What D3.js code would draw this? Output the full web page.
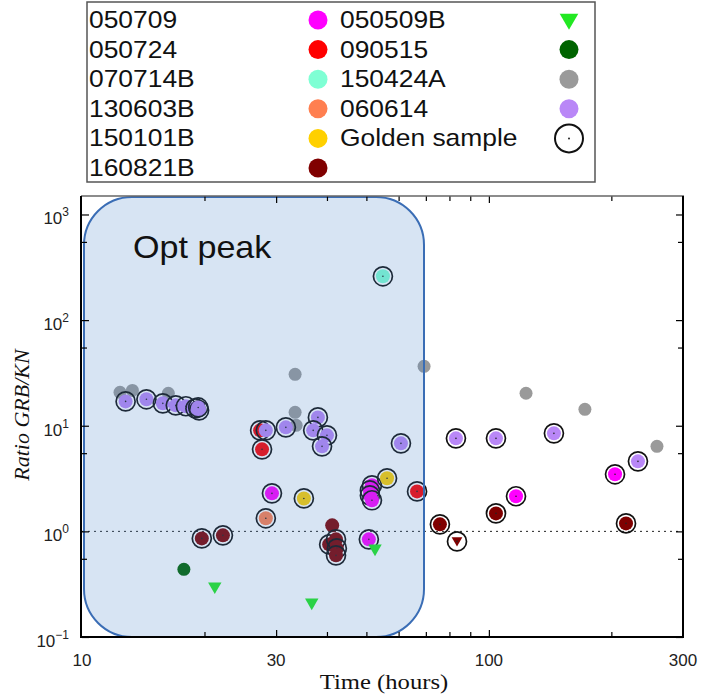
<!DOCTYPE html>
<html>
<head>
<meta charset="utf-8">
<script src="https://cdnjs.cloudflare.com/ajax/libs/d3/7.8.5/d3.min.js"></script>
<style>
  body { margin: 0; background: #fff; }
  .tick line { stroke: #000; }
  .domain { display: none; }
</style>
</head>
<body>
<div id="chart"></div>
<script>
var svgWidth = 702;
var svgHeight = 694;

// Each point: [time (hours), ratio GRB/KN, golden sample (1) or not (0)]
var grb050709 = [[29.3, 2.29, 1], [51.6, 2.73, 1], [51.0, 2.44, 1], [51.0, 2.19, 1], [51.6, 1.97, 1],
                 [50.7, 0.84, 1], [116.6, 2.15, 1], [204.2, 3.47, 1]];
var grb050724 = [[27.4, 9.04, 1], [27.7, 5.98, 1], [66.6, 2.39, 1]];
var grb070714B = [[54.9, 260, 1]];
var grb130603B = [[28.3, 1.33, 1]];
var grb150101B = [[35.1, 2.05, 1], [56.2, 3.18, 1]];
var grb160821B = [[19.7, 0.858, 1], [22.2, 0.917, 1], [41.2, 1.14, 0], [40.5, 0.753, 1], [42.1, 0.84, 1],
                  [42.3, 0.69, 1], [42.1, 0.593, 1], [75.8, 1.165, 1], [104.1, 1.48, 1], [217.3, 1.19, 1]];
var lim160821B = [[83.5, 0.804, 1]];
var grb050509B = [[21.2, 0.295, 0], [36.7, 0.208, 0], [52.5, 0.675, 0]];
var grb090515 = [[17.8, 0.437, 0]];
var grb150424A = [[12.4, 20.7, 0], [13.3, 21.6, 0], [16.3, 20.3, 0], [33.4, 30.7, 0], [33.4, 13.4, 0],
                  [33.6, 10.1, 0], [69.3, 36.5, 0], [123.4, 20.3, 0], [172.2, 14.3, 0], [258.9, 6.38, 0]];
var grb060614 = [[12.8, 17.0, 1], [14.4, 17.8, 1], [15.8, 16.3, 1], [17.0, 15.6, 1], [18.0, 15.3, 1],
                 [19.0, 14.6, 1], [19.4, 14.0, 1], [19.3, 14.9, 1],
                 [28.3, 9.04, 1], [31.7, 9.66, 1], [38.0, 12.0, 1], [37.0, 9.04, 1], [40.0, 8.11, 1],
                 [38.9, 6.38, 1], [60.8, 6.81, 1],
                 [83.0, 7.6, 1], [104.1, 7.6, 1], [144.5, 8.47, 1], [232.5, 4.6, 1]];

var legendLeft = ["050709", "050724", "070714B", "130603B", "150101B", "160821B"];
var legendRight = ["050509B", "090515", "150424A", "060614", "Golden sample"];

var xMajor = [30, 100];
var xMinor = [20, 40, 50, 60, 70, 80, 90, 200];
var xLabels = [10, 30, 100, 300];
var yMajor = [0.1, 1, 10, 100, 1000];
var yMinor = [0.55, 5.5, 55, 550];
var yLabelExp = ["\u22121", "0", "1", "2", "3"];

var colors = {
  "050709": "#ff00ff", "050724": "#ff0000", "070714B": "#7fffd4", "130603B": "#ff7f50",
  "150101B": "#ffd000", "160821B": "#800000", "050509B": "#22e822", "090515": "#006400",
  "150424A": "#9a9a9a", "060614": "#b987f7"
};

// drawing order (back to front)
var series = [
  { name: "150424A", data: grb150424A, shape: "circle", r: 6.5 },
  { name: "050724", data: grb050724, shape: "circle", r: 7 },
  { name: "060614", data: grb060614, shape: "circle", r: 7 },
  { name: "050709", data: grb050709, shape: "circle", r: 7 },
  { name: "150101B", data: grb150101B, shape: "circle", r: 7 },
  { name: "130603B", data: grb130603B, shape: "circle", r: 7 },
  { name: "070714B", data: grb070714B, shape: "circle", r: 7 },
  { name: "160821B", data: grb160821B, shape: "circle", r: 7 },
  { name: "160821B", data: lim160821B, shape: "triangle", r: 7 },
  { name: "050509B", data: grb050509B, shape: "triangle", r: 7 },
  { name: "090515", data: grb090515, shape: "circle", r: 6.5 }
];

var plotLeft = 82, plotRight = 683, plotTop = 196, plotBottom = 637;

var svg = d3.select("#chart")
  .append("svg")
  .attr("width", svgWidth)
  .attr("height", svgHeight)
  .style("font-family", "'Liberation Sans', Arial, sans-serif");

var xScale = d3.scaleLog().domain([10, 300]).range([plotLeft, plotRight]);
var yScale = d3.scaleLog().domain([0.1, Math.pow(10, 3.175)]).range([plotBottom, plotTop]);

// dotted line at ratio = 1
svg.append("line")
  .attr("x1", plotLeft).attr("x2", plotRight)
  .attr("y1", yScale(1)).attr("y2", yScale(1))
  .attr("stroke", "#222")
  .attr("stroke-width", 1)
  .attr("stroke-dasharray", "2,4");

// points
var pointsGroup = svg.append("g");
series.forEach(function(s) {
  s.data.forEach(function(d) {
    var cx = xScale(d[0]), cy = yScale(d[1]);
    if (s.shape === "circle") {
      pointsGroup.append("circle")
        .attr("cx", cx).attr("cy", cy).attr("r", s.r)
        .attr("fill", colors[s.name]);
    } else {
      pointsGroup.append("path")
        .attr("d", d3.symbol().type(d3.symbolTriangle).size(d[2] ? 50 : 78)())
        .attr("transform", "translate(" + cx + "," + (cy - 1) + ") rotate(180)")
        .attr("fill", colors[s.name]);
    }
    if (d[2]) {
      pointsGroup.append("circle")
        .attr("cx", cx).attr("cy", cy).attr("r", 9.5)
        .attr("fill", "none")
        .attr("stroke", "#111")
        .attr("stroke-width", 1.7);
      pointsGroup.append("circle")
        .attr("cx", cx).attr("cy", cy).attr("r", 0.8)
        .attr("fill", "#222");
    }
  });
});

// optical peak region, drawn over the points
svg.append("rect")
  .attr("x", 84).attr("y", plotTop + 1)
  .attr("width", 340).attr("height", plotBottom - plotTop - 1)
  .attr("rx", 48).attr("ry", 48)
  .attr("fill", "#4a86c8")
  .attr("fill-opacity", 0.22)
  .attr("stroke", "#3a6db5")
  .attr("stroke-width", 2);

svg.append("text")
  .attr("transform", "translate(133,258) scale(1.1,1)")
  .attr("font-size", "31px")
  .attr("fill", "#111")
  .text("Opt peak");

// ticks (inward, on all four sides)
svg.append("g")
  .attr("transform", "translate(0," + plotBottom + ")")
  .call(d3.axisBottom(xScale).tickValues(xMajor).tickSize(-7).tickFormat(""));
svg.append("g")
  .attr("transform", "translate(0," + plotBottom + ")")
  .call(d3.axisBottom(xScale).tickValues(xMinor).tickSize(-5).tickFormat(""));
svg.append("g")
  .attr("transform", "translate(0," + plotTop + ")")
  .call(d3.axisTop(xScale).tickValues(xMajor).tickSize(-7).tickFormat(""));
svg.append("g")
  .attr("transform", "translate(0," + plotTop + ")")
  .call(d3.axisTop(xScale).tickValues(xMinor).tickSize(-5).tickFormat(""));
svg.append("g")
  .attr("transform", "translate(" + plotLeft + ",0)")
  .call(d3.axisLeft(yScale).tickValues(yMajor).tickSize(-7).tickFormat(""));
svg.append("g")
  .attr("transform", "translate(" + plotLeft + ",0)")
  .call(d3.axisLeft(yScale).tickValues(yMinor).tickSize(-5).tickFormat(""));
svg.append("g")
  .attr("transform", "translate(" + plotRight + ",0)")
  .call(d3.axisRight(yScale).tickValues(yMajor).tickSize(-7).tickFormat(""));
svg.append("g")
  .attr("transform", "translate(" + plotRight + ",0)")
  .call(d3.axisRight(yScale).tickValues(yMinor).tickSize(-5).tickFormat(""));
svg.selectAll(".tick line").attr("stroke-width", 1.2);

// frame
svg.append("line").attr("x1", plotLeft - 1).attr("x2", plotRight + 1).attr("y1", plotTop).attr("y2", plotTop)
  .attr("stroke", "#666").attr("stroke-width", 1.3);
svg.append("line").attr("x1", plotLeft - 1).attr("x2", plotRight + 1).attr("y1", plotBottom).attr("y2", plotBottom)
  .attr("stroke", "#000").attr("stroke-width", 2);
svg.append("line").attr("x1", plotLeft - 1).attr("x2", plotLeft - 1).attr("y1", plotTop).attr("y2", plotBottom + 1)
  .attr("stroke", "#000").attr("stroke-width", 2);
svg.append("line").attr("x1", plotRight).attr("x2", plotRight).attr("y1", plotTop).attr("y2", plotBottom + 1)
  .attr("stroke", "#000").attr("stroke-width", 2);

// x tick labels
svg.selectAll(".xlabel")
  .data(xLabels)
  .enter()
  .append("text")
  .attr("x", d => xScale(d))
  .attr("y", 666)
  .attr("text-anchor", "middle")
  .attr("font-size", "17px")
  .attr("fill", "#222")
  .text(d => d);

// y tick labels with superscripts
var yLabels = svg.selectAll(".ylabel")
  .data(yMajor)
  .enter()
  .append("text")
  .attr("x", 69)
  .attr("y", d => yScale(d) + 10)
  .attr("text-anchor", "end")
  .attr("font-size", "17px")
  .attr("fill", "#222");
yLabels.append("tspan").text("10");
yLabels.append("tspan")
  .attr("dy", -8)
  .attr("font-size", "12px")
  .text((d, i) => yLabelExp[i]);

// axis titles
svg.append("text")
  .attr("transform", "translate(384,689) scale(1.12,1)")
  .attr("text-anchor", "middle")
  .attr("font-family", "'Liberation Serif', 'Times New Roman', serif")
  .attr("font-size", "22px")
  .attr("fill", "#111")
  .text("Time (hours)");

svg.append("text")
  .attr("transform", "translate(29,415) rotate(-90)")
  .attr("text-anchor", "middle")
  .attr("font-family", "'Liberation Serif', 'Times New Roman', serif")
  .attr("font-style", "italic")
  .attr("font-size", "22px")
  .attr("fill", "#111")
  .text("Ratio GRB/KN");

// legend
var legend = svg.append("g");
legend.append("rect")
  .attr("x", 87).attr("y", 2)
  .attr("width", 508).attr("height", 180)
  .attr("fill", "#fff")
  .attr("stroke", "#555")
  .attr("stroke-width", 1.5);

var rowY = function(i) { return 28 + i * 29.6; };

legend.selectAll(".legL")
  .data(legendLeft)
  .enter()
  .append("text")
  .attr("transform", (d, i) => "translate(89," + rowY(i) + ") scale(1.1,1)")
  .attr("font-size", "24px")
  .attr("fill", "#111")
  .text(d => d);

legend.selectAll(".legLdot")
  .data(legendLeft)
  .enter()
  .append("circle")
  .attr("cx", 318)
  .attr("cy", (d, i) => rowY(i) - 8)
  .attr("r", 9.5)
  .attr("fill", d => colors[d]);

legend.selectAll(".legR")
  .data(legendRight)
  .enter()
  .append("text")
  .attr("transform", (d, i) => "translate(340," + rowY(i) + ") scale(1.1,1)")
  .attr("font-size", "24px")
  .attr("fill", "#111")
  .text(d => d);

legendRight.forEach(function(name, i) {
  var cy = rowY(i) - 8;
  if (name === "050509B") {
    legend.append("path")
      .attr("d", d3.symbol().type(d3.symbolTriangle).size(150)())
      .attr("transform", "translate(569," + (cy - 1) + ") rotate(180)")
      .attr("fill", colors[name]);
  } else if (name === "Golden sample") {
    legend.append("circle")
      .attr("cx", 569).attr("cy", cy).attr("r", 14)
      .attr("fill", "none").attr("stroke", "#111").attr("stroke-width", 2);
    legend.append("circle")
      .attr("cx", 569).attr("cy", cy).attr("r", 1)
      .attr("fill", "#222");
  } else {
    legend.append("circle")
      .attr("cx", 569).attr("cy", cy).attr("r", 9.5)
      .attr("fill", colors[name]);
  }
});
</script>
</body>
</html>
